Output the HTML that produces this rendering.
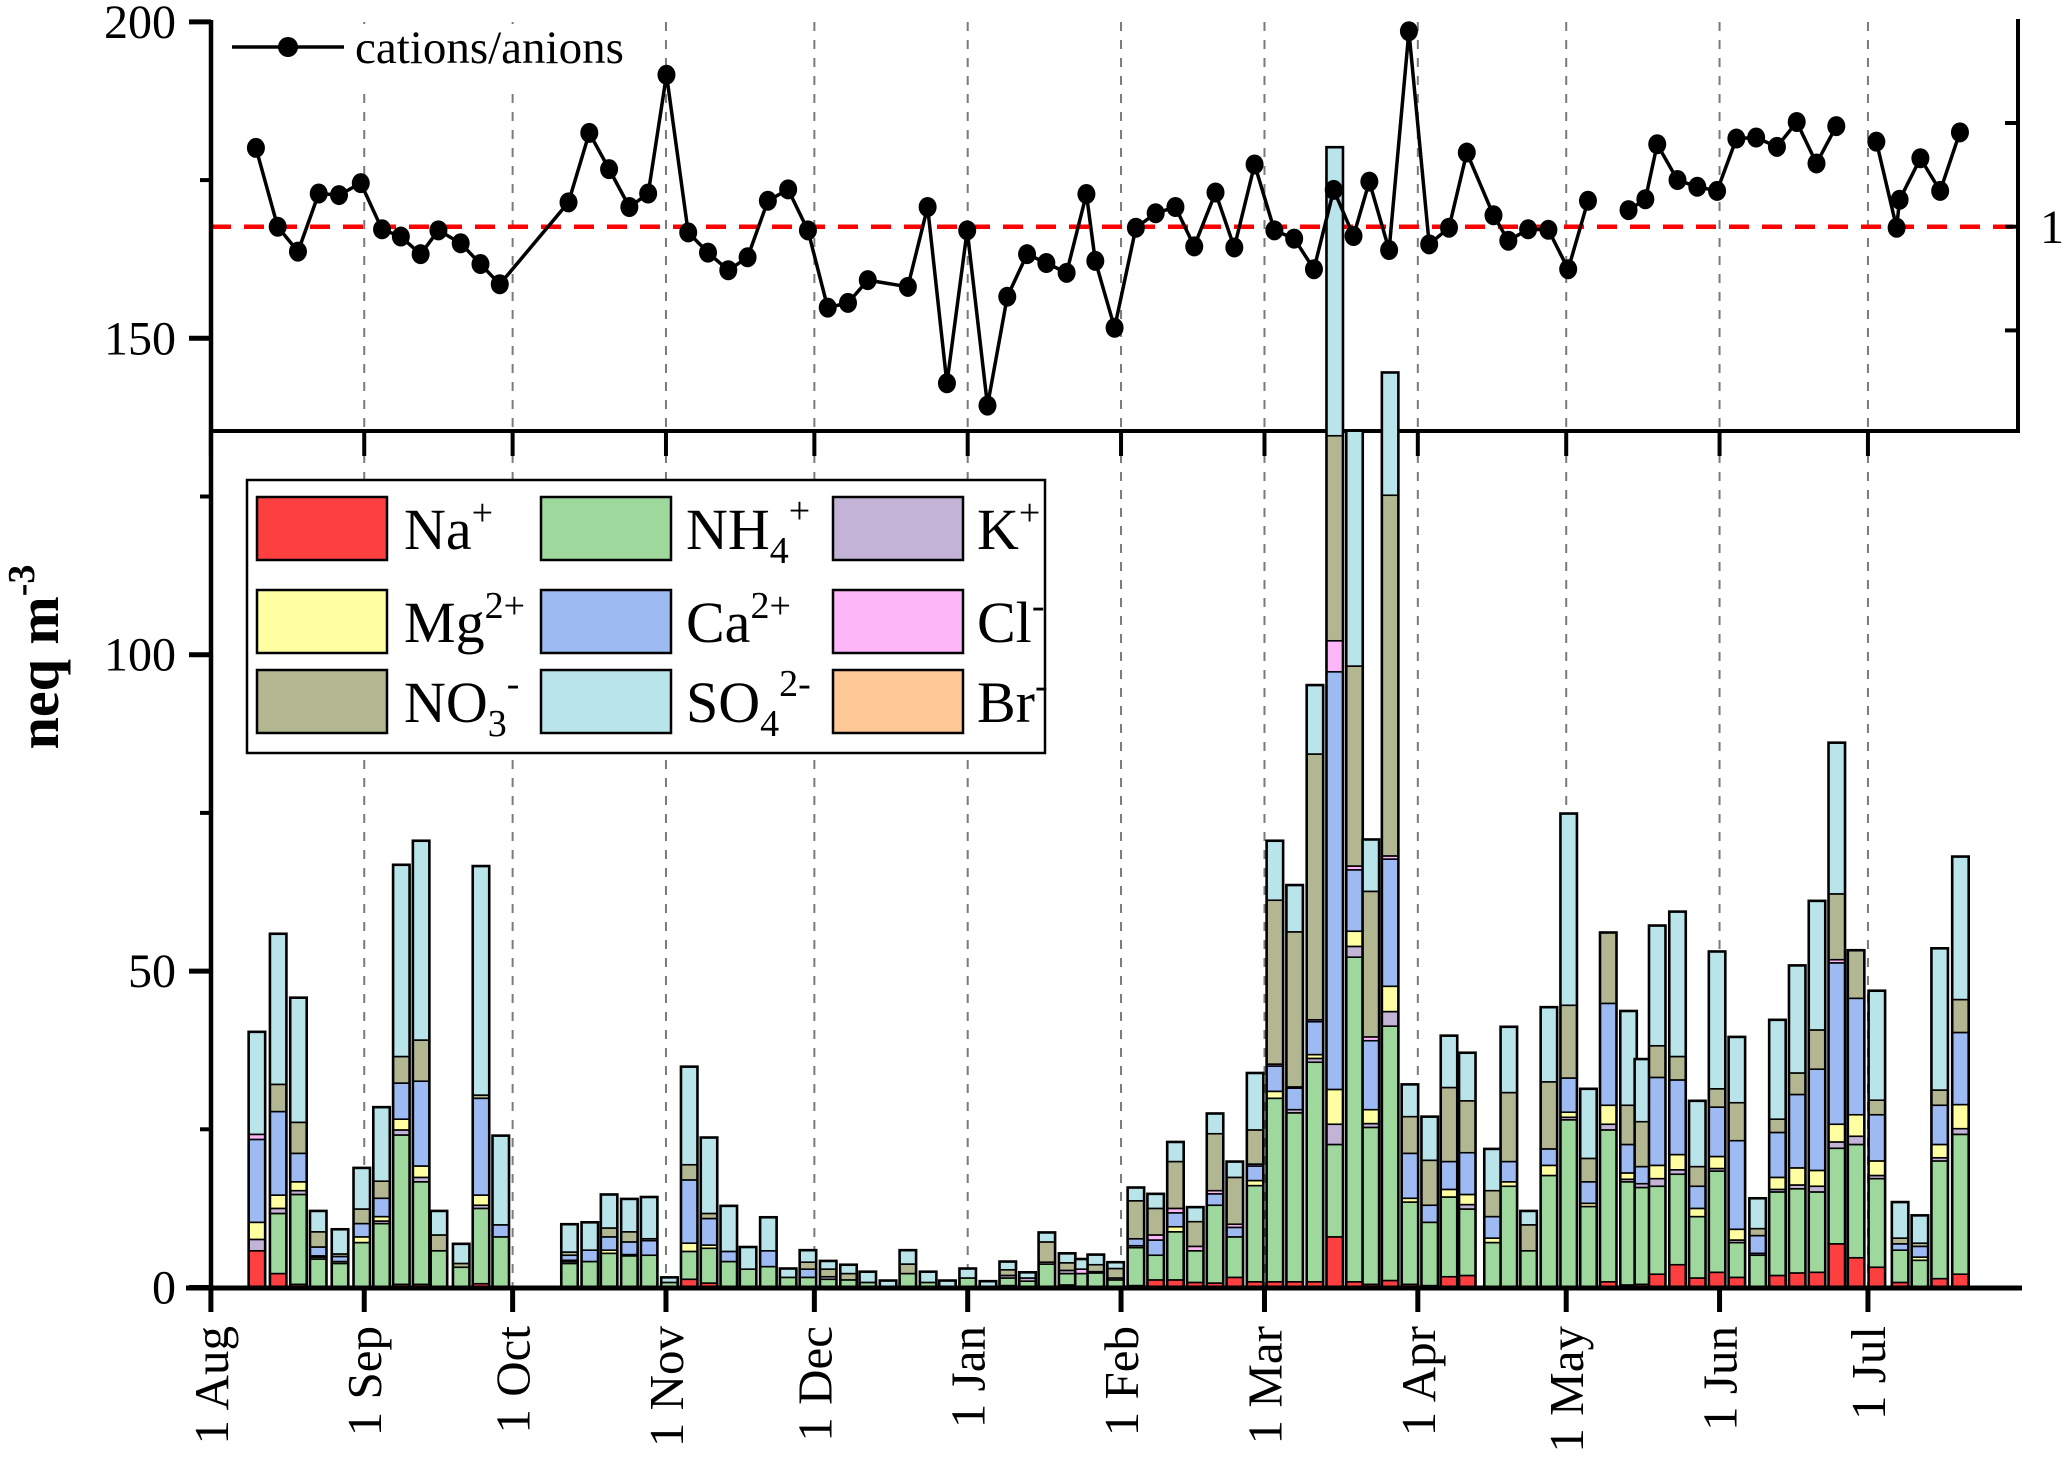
<!DOCTYPE html>
<html><head><meta charset="utf-8"><title>Ion composition chart</title>
<style>
html,body{margin:0;padding:0;background:#fff;}
svg{display:block;font-family:"Liberation Serif","Times New Roman",serif;}
</style></head>
<body>
<svg id="chart" width="2067" height="1459" viewBox="0 0 2067 1459" xmlns="http://www.w3.org/2000/svg">
<g id="grid"></g>
<line x1="211" y1="226.7" x2="2018" y2="226.7" stroke="#ff0000" stroke-width="4.5" stroke-dasharray="20,13"/>
<line x1="211" y1="431" x2="2020" y2="431" stroke="#000" stroke-width="4"/>
<g id="toppanelticks"></g>
<line x1="2018" y1="19" x2="2018" y2="433" stroke="#000" stroke-width="4"/>
<g id="rightticks"></g>
<text x="2040" y="243" font-size="48">1</text>
<g id="bars"></g>
<g id="ratioline"></g>
<line x1="211" y1="20" x2="211" y2="1290" stroke="#000" stroke-width="4.5"/>
<line x1="186" y1="1288" x2="2022" y2="1288" stroke="#000" stroke-width="5"/>
<g id="yticks"></g>
<g id="xticks"></g>
<text transform="translate(58,657) rotate(-90)" text-anchor="middle" font-size="58" font-weight="bold">neq m<tspan dy="-24" font-size="38">-3</tspan></text>
<g>
<rect x="222" y="24" width="420" height="62" fill="#fff"/>
<line x1="232" y1="47" x2="344" y2="47" stroke="#000" stroke-width="3.5"/>
<circle cx="288" cy="47" r="10" fill="#000"/>
<text x="355" y="63" font-size="47">cations/anions</text>
</g>
<g id="legend">
<rect x="247" y="480" width="798" height="273" fill="#fff" stroke="#000" stroke-width="2.5"/>
</g>
</svg>
<script>
// ---- data ----
const sampleDays = [9.3,13.6,17.7,21.7,26.1,30.5,34.5,38.5,42.5,46.1,50.6,54.6,58.6,72.5,76.6,80.5,84.6,88.6,92.7,96.7,100.7,104.7,108.6,112.7,116.7,120.7,124.8,128.9,132.8,136.9,140.9,145.0,148.9,153.0,157.1,161.1,165.1,169.0,173.1,176.4,178.9,182.9,187.0,191.0,195.0,199.0,203.0,207.0,211.1,215.1,219.1,223.2,227.2,231.2,234.5,238.4,242.4,246.4,250.3,254.0,259.1,262.4,266.4,270.5,274.5,278.5,282.5,286.6,289.5,292.4,296.5,300.5,304.5,308.5,312.7,316.7,320.7,324.7,328.7,332.6,336.8,341.5,345.5,349.5,353.7];
const na = [5.8,2.2,0.5,0,0,0,0,0.5,0.5,0, 0,0.6,0,0,0,0.2,0,0,0,1.3, 0.7,0,0,0,0,0,0,0,0,0, 0,0,0,0,0,0.3,0,0,0.4,0, 0,0,0.3,1.2,1.2,0.8,0.7,1.6,0.9,0.9, 0.9,0.9,8.0,0.9,0.5,1.1,0.5,0.3,1.7,1.9, 0,0,0,0,0,0,0.9,0.4,0.5,2.1, 3.6,1.5,2.4,1.6,0,1.9,2.3,2.4,6.9,4.7, 3.2,0.8,0,1.4,2.1];
const nh4 = [0,9.5,14.2,4.5,3.8,7.1,10.1,23.6,16.2,5.8, 3.2,11.9,8.0,3.8,4.1,5.2,5.0,5.1,0.8,4.4, 5.5,4.1,2.9,3.3,1.6,1.6,1.3,1.2,0.8,0, 2.2,0.8,0,1.5,0,1.2,1.0,3.7,1.8,2.2, 2.3,1.2,6.0,3.9,7.6,5.0,12.3,6.4,15.2,29.0, 26.7,34.7,14.6,51.3,24.8,40.2,13.0,10.0,12.6,10.5, 7.1,16.0,5.8,17.7,26.5,12.8,24.0,16.3,15.3,13.9, 14.3,9.7,16.0,5.5,5.1,13.2,13.3,12.7,15.1,17.9, 14.0,5.1,4.3,18.6,22.1];
const k = [1.8,0.8,0.6,0.3,0,0,0.4,0.8,0.7,0, 0,0.5,0,0.3,0,0,0.2,0,0,0, 0,0,0,0,0,0,0.4,0,0,0, 0,0,0,0,0,0.4,0.5,0.3,0.5,0, 0.2,0.3,0.3,0,0,0,0,0,0,0, 0.5,0.6,3.2,1.7,0.6,2.3,0,0,0,0.7, 0,0,0,0,0.4,0,0.9,0.4,0.6,1.2, 0.7,0,0.4,0.4,0.3,0.4,0.6,0.9,1.0,1.3, 0.5,0,0,0.5,0.9];
const mg = [2.7,2.1,1.4,0.2,0.3,0.9,0.7,1.7,1.8,0, 0,1.6,0,0.2,0,0.5,0,0,0,1.3, 0.5,0,0,0,0,0,0,0,0,0, 0,0,0,0,0,0,0,0,0,0, 0,0,0,0,0.8,0,0,0,0.8,1.1, 0,0.6,5.5,2.4,2.2,4.0,0.6,0,1.2,1.6, 0.7,0.7,0,1.6,0.8,0.5,3.0,1.0,0,2.1, 2.4,1.3,1.9,1.7,0,1.9,2.7,2.5,2.8,3.4, 2.3,0,0.5,2.1,3.8];
const ca = [13.1,13.2,4.5,1.4,0.8,2.1,2.9,5.7,13.4,0, 0,15.3,1.9,0.8,1.8,2.1,2.0,2.3,0,10.0, 4.2,1.6,0,2.5,0,1.3,0,0,0,0, 0,0,0,0,0,0,0,0,0,0, 0,0,1.1,2.4,2.2,0,1.8,1.5,2.3,4.0, 3.4,5.2,66.0,9.7,10.9,20.1,7.1,2.7,4.4,6.6, 3.4,3.2,0,2.6,5.4,3.4,16.1,4.5,2.7,13.9, 11.8,3.5,7.8,14.0,2.8,7.1,11.6,16.0,25.5,18.4, 7.3,1.0,1.7,6.2,11.4];
const cl = [0.8,0,0,0,0,0,0,0,0,0, 0,0,0,0,0,0,0,0,0,0, 0,0,0,0,0,0,0,0,0,0, 0,0,0,0,0,0,0,0,0,0.7, 0,0,0,0.8,0.7,0.7,0.5,0.5,0.3,0.3, 0.2,0.3,4.9,0.6,0.6,0.5,0,0,0,0, 0,0,0,0,0,0,0,0,0,0, 0,0,0,0,0,0,0,0,0.5,0, 0,0,0,0,0];
const no3 = [0,4.3,4.9,2.4,0.4,2.3,2.7,4.2,6.5,2.5, 0.6,0.5,0,0.5,0,1.4,1.6,0.3,0,2.4, 0.8,0,0,0,0,1.1,1.2,1.0,0,0, 1.5,0,0,0,0,0.9,0,3.2,1.2,0, 1.1,1.5,6.0,4.2,7.4,3.9,9.0,7.4,5.4,25.9, 24.5,42.0,32.4,31.6,23.0,57.0,5.8,7.1,11.7,8.2, 4.1,10.9,4.1,10.6,11.5,3.7,11.2,6.2,7.1,5.0, 3.7,3.1,2.9,6.0,1.1,2.1,3.4,6.2,10.4,7.6, 2.3,0.9,0.5,2.4,5.2];
const so4 = [16.2,23.8,19.7,3.3,3.9,6.5,11.7,30.3,31.5,3.8, 3.1,36.2,14.1,4.4,4.4,5.3,5.2,6.6,0.8,15.5, 12.0,7.2,3.5,5.3,1.4,1.9,1.3,1.4,1.7,1.1, 2.2,1.7,1.1,1.5,1.0,1.3,0.9,1.5,1.5,1.6, 1.6,1.0,2.1,2.3,3.1,2.3,3.2,2.5,9.0,9.4, 7.4,10.9,45.6,37.2,8.2,19.4,5.1,6.9,8.2,7.6, 6.6,10.4,2.2,11.8,30.3,11.0,0,14.9,9.9,19.0, 22.9,10.4,21.7,10.4,4.8,15.7,17.0,20.4,23.9,0, 17.3,5.7,4.4,22.4,22.6];
const br = new Array(85).fill(0);

const ratioDays = [9.1,13.5,17.6,21.8,25.9,30.3,34.6,38.4,42.4,46.0,50.5,54.5,58.4,72.3,76.5,80.5,84.6,88.4,92.1,96.5,100.5,104.6,108.5,112.6,116.7,120.7,124.7,128.8,132.8,140.9,144.9,148.8,152.9,157.0,161.0,165.0,168.9,173.0,177.0,178.8,182.7,187.0,191.0,195.0,198.8,203.1,206.9,211.0,215.0,219.0,223.0,227.0,231.0,234.2,238.2,242.2,246.3,250.3,253.9,259.3,262.3,266.3,270.4,274.4,278.4,278.5,286.6,290.0,292.4,296.5,300.5,304.5,308.4,312.4,316.6,320.6,324.6,328.6,328.7,336.7,340.8,341.4,345.6,349.6,353.6];
const ratios = [1.152,1.000,0.952,1.064,1.061,1.084,0.995,0.981,0.947,0.993,0.968,0.928,0.889,1.047,1.181,1.111,1.038,1.064,1.293,0.989,0.950,0.916,0.941,1.050,1.072,0.993,0.844,0.853,0.897,0.884,1.038,0.698,0.993,0.655,0.865,0.947,0.930,0.911,1.063,0.934,0.805,0.998,1.026,1.038,0.962,1.066,0.960,1.120,0.993,0.977,0.918,1.071,0.982,1.087,0.955,1.377,0.966,0.998,1.143,1.022,0.973,0.995,0.994,0.918,1.050,null,1.032,1.053,1.159,1.090,1.077,1.069,1.170,1.172,1.154,1.202,1.122,1.194,null,1.164,0.998,1.052,1.132,1.069,1.182];

const monthDays = [0,31,61,92,122,153,184,213,244,274,305,335];
const monthLabels = ["1 Aug","1 Sep","1 Oct","1 Nov","1 Dec","1 Jan","1 Feb","1 Mar","1 Apr","1 May","1 Jun","1 Jul"];
const yTickValues = [0,50,100,150,200];
const yTickLabels = ["0","50","100","150","200"];
const rightTickValues = [0.8,1.0,1.2];

// ---- scales ----
const NS = "http://www.w3.org/2000/svg";
function xDay(d){ return 210.9 + d*4.9464; }
function yVal(v){ return 1287.5 - v*6.328; }
function yRatio(r){ return 226.7 - (r-1)*518.5; }
function mk(tag, attrs, parent){ const e=document.createElementNS(NS,tag); for(const a in attrs) e.setAttribute(a,attrs[a]); parent.appendChild(e); return e; }

const series = [
  {name:"na", vals:na, color:"#fd3f40"},
  {name:"nh4", vals:nh4, color:"#9fd89d"},
  {name:"k", vals:k, color:"#c3b3d6"},
  {name:"mg", vals:mg, color:"#ffffa2"},
  {name:"ca", vals:ca, color:"#9dbaf2"},
  {name:"cl", vals:cl, color:"#fdb6f7"},
  {name:"no3", vals:no3, color:"#b3b791"},
  {name:"so4", vals:so4, color:"#b8e4ea"},
  {name:"br", vals:br, color:"#fdc796"}
];

const grid = document.getElementById('grid');
monthDays.forEach((d,i)=>{
  if(i===0) return;
  const ln = mk('line',{x1:xDay(d),y1:22,x2:xDay(d),y2:1286,stroke:'#7a7a7a','stroke-width':2,'stroke-dasharray':'9,9'},grid);
  
  
});
const tpt = document.getElementById('toppanelticks');
monthDays.forEach((d,i)=>{
  const t = mk('line',{x1:xDay(d),y1:431,x2:xDay(d),y2:456,stroke:'#000','stroke-width':4},tpt);
  
  
});
const rt = document.getElementById('rightticks');
rightTickValues.forEach(v=>{
  const t = mk('line',{x1:2005,y1:yRatio(v),x2:2018,y2:yRatio(v),stroke:'#000','stroke-width':4},rt);
  
  
});

const barsG = document.getElementById('bars');
const bw = 16.5;
sampleDays.forEach((d,i)=>{
  const g = mk('g',{},barsG);
  
  
  let cum = 0;
  const x = xDay(d) - bw/2;
  series.forEach(s=>{
    const v = s.vals[i];
    if(!v) return;
    const y1 = yVal(cum+v), y0 = yVal(cum);
    const r = mk('rect',{x:x,y:y1,width:bw,height:Math.max(0,y0-y1),fill:s.color,stroke:'#000','stroke-width':1.6},g);
    
    
    cum += v;
  });
  const o = mk('rect',{x:x,y:yVal(cum),width:bw,height:yVal(0)-yVal(cum),fill:'none',stroke:'#000','stroke-width':2.6},g);
  
  
});

const rl = document.getElementById('ratioline');
let seg = [];
function flush(){
  if(seg.length>1){
    const p = mk('polyline',{points:seg.join(' '),fill:'none',stroke:'#000','stroke-width':3.5},rl);
    
    
  }
  seg=[];
}
ratios.forEach((r,i)=>{
  if(r===null){ flush(); return; }
  seg.push(xDay(ratioDays[i]).toFixed(1)+','+yRatio(r).toFixed(1));
});
flush();
ratios.forEach((r,i)=>{
  if(r===null) return;
  const c = mk('ellipse',{cx:xDay(ratioDays[i]),cy:yRatio(r),rx:9,ry:10,fill:'#000'},rl);
  
  
});

const yt = document.getElementById('yticks');
for(let v=25; v<200; v+=50){
  const t = mk('line',{x1:200,y1:yVal(v),x2:211,y2:yVal(v),stroke:'#000','stroke-width':4},yt);
  
  
}
yTickValues.forEach((v,i)=>{
  const t = mk('line',{x1:189,y1:yVal(v),x2:211,y2:yVal(v),stroke:'#000','stroke-width':5},yt);
  
  
  const lb = mk('text',{x:176,y:yVal(v)+16,'text-anchor':'end','font-size':48},yt);
  lb.textContent = yTickLabels[i];
  
  
});
const xt = document.getElementById('xticks');
monthDays.forEach((d,i)=>{
  const t = mk('line',{x1:xDay(d),y1:1288,x2:xDay(d),y2:1312,stroke:'#000','stroke-width':5},xt);
  
  
  const lb = mk('text',{transform:'translate('+(xDay(d)+17)+',1326) rotate(-90)','text-anchor':'end','font-size':49},xt);
  lb.textContent = monthLabels[i];
  
  
});

const lg = document.getElementById('legend');
const legendItems = [
  {c:"#fd3f40", base:"Na", sub:"", sup:"+", col:0,row:0},
  {c:"#9fd89d", base:"NH", sub:"4", sup:"+", col:1,row:0},
  {c:"#c3b3d6", base:"K", sub:"", sup:"+", col:2,row:0},
  {c:"#ffffa2", base:"Mg", sub:"", sup:"2+", col:0,row:1},
  {c:"#9dbaf2", base:"Ca", sub:"", sup:"2+", col:1,row:1},
  {c:"#fdb6f7", base:"Cl", sub:"", sup:"-", col:2,row:1},
  {c:"#b3b791", base:"NO", sub:"3", sup:"-", col:0,row:2},
  {c:"#b8e4ea", base:"SO", sub:"4", sup:"2-", col:1,row:2},
  {c:"#fdc796", base:"Br", sub:"", sup:"-", col:2,row:2}
];
const colX = [257,541,833], rowY = [497,590,670], labX = [404,686,977];
legendItems.forEach(it=>{
  const r = mk('rect',{x:colX[it.col],y:rowY[it.row],width:130,height:63,fill:it.c,stroke:'#000','stroke-width':2.5},lg);
  
  
  const t = mk('text',{x:labX[it.col],y:rowY[it.row]+52,'font-size':58},lg);
  
  
  t.appendChild(document.createTextNode(it.base));
  if(it.sub){
    const s = mk('tspan',{dy:14,'font-size':38},t); s.textContent = it.sub;
    const p = mk('tspan',{dy:-40,'font-size':38},t); p.textContent = it.sup;
  } else {
    const p = mk('tspan',{dy:-24,'font-size':38},t); p.textContent = it.sup;
  }
});
</script>
</body></html>
